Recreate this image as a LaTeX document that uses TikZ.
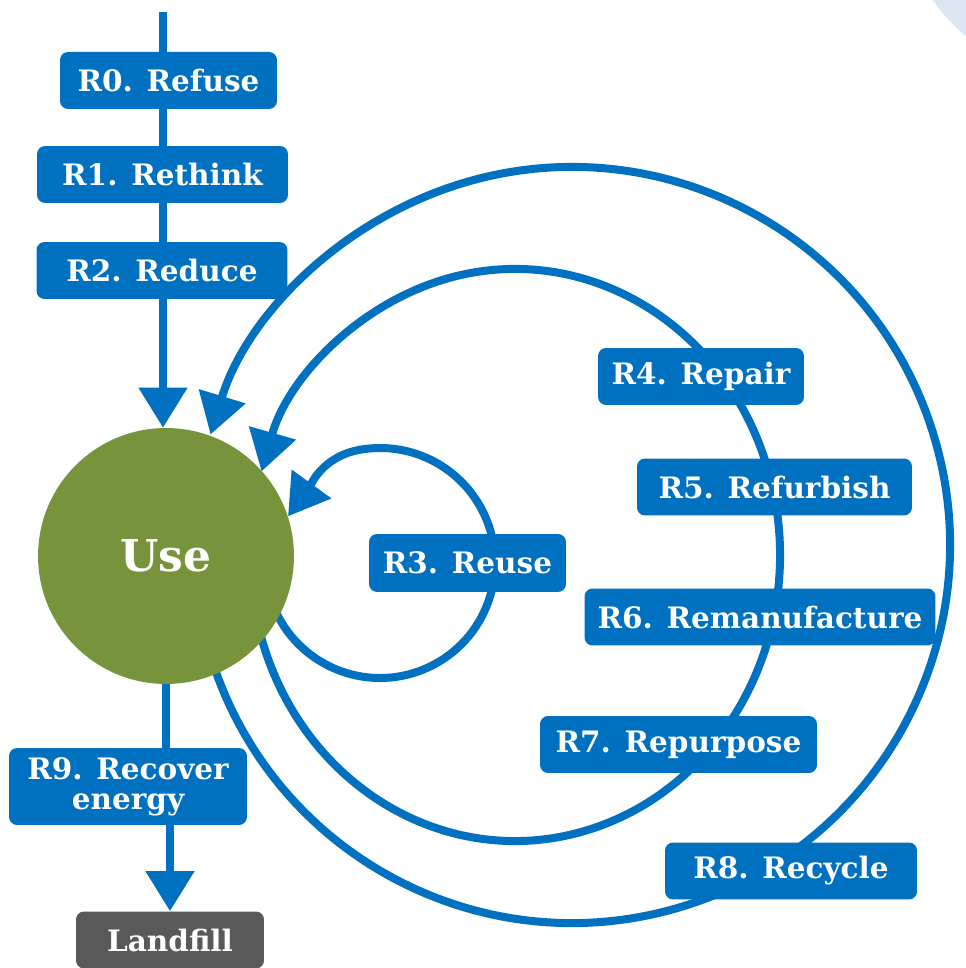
\documentclass[tikz,border=0pt]{standalone}
\usepackage{fontspec}
\setmainfont{DejaVu Serif}
\usetikzlibrary{shapes.geometric, arrows.meta, backgrounds}

\definecolor{rblue}{HTML}{0070C0}
\definecolor{usegreen}{HTML}{77933C}
\definecolor{fillgrey}{HTML}{595959}
\definecolor{paleblue}{HTML}{DCE6F2}

\tikzstyle{rbox} = [rectangle, rounded corners=0.16cm, minimum height=1.14cm, inner sep=0pt, text centered, fill=rblue, text=white, font=\fontsize{16.8}{19}\selectfont\bfseries]
\tikzstyle{endbox} = [rbox, fill=fillgrey]
\tikzstyle{usecircle} = [circle, minimum size=5.12cm, inner sep=0pt, fill=usegreen, text=white, font=\fontsize{25}{30}\selectfont\bfseries]
\tikzstyle{flow} = [rblue, line width=0.16cm]
\tikzstyle{arrow} = [flow, -{Triangle[width=0.94cm, length=0.8cm]}]

\begin{document}
\begin{tikzpicture}[x=0.02cm, y=0.02cm]
\useasboundingbox (0,0) rectangle (965,968);

% Centre - the product in use
\node (use) [usecircle] at (166,412) {Use};

% Column 1 - Smarter product use and manufacture
\coordinate (top) at (163,956);
\node (refuse) [rbox, minimum width=4.34cm] at (168.5,887.5) {R0. Refuse};
\node (rethink) [rbox, minimum width=5.02cm] at (162.5,793.5) {R1. Rethink};
\node (reduce) [rbox, minimum width=5.02cm] at (162,697.5) {R2. Reduce};

% Column 1 - Way out
\node (recover) [rbox, align=center, minimum width=4.76cm, minimum height=1.54cm, font=\fontsize{16.8}{17}\selectfont\bfseries] at (128,181.5) {R9. Recover\\energy};
\node (landfill) [endbox, minimum width=3.76cm] at (170,28) {Landfill};

% Loops - extend lifespan of product and parts
\node (reuse) [rbox, minimum width=3.94cm, minimum height=1.16cm] at (467.5,405) {R3. Reuse};
\node (repair) [rbox, minimum width=4.12cm] at (701,591.5) {R4. Repair};
\node (refurbish) [rbox, minimum width=5.5cm] at (774.5,481) {R5. Refurbish};
\node (remanufacture) [rbox, minimum width=7.02cm] at (760,351) {R6. Remanufacture};
\node (repurpose) [rbox, minimum width=5.54cm] at (678.5,223.5) {R7. Repurpose};
\node (recycle) [rbox, minimum width=5.04cm] at (791,97) {R8. Recycle};

% Loop centres
\coordinate (loopS) at (380,405);
\coordinate (ringM) at (515,413);
\coordinate (ringO) at (572,423);

\begin{scope}[on background layer]
\fill[paleblue] (1100,1088) circle (206);

% Column 1 - Arrows
\draw [arrow] (top) -- (top |- use.north);
\draw [flow] (use.south) -- (use.south |- recover.north);
\draw [arrow] (recover.south -| landfill.north) -- (landfill.north);

% Loops - Arrows
\draw [arrow] (loopS) ++(205:115) arc[start angle=205, end angle=460, radius=115] to[out=190, in=54] (use.18);
\draw [arrow] (ringM) ++(196:265 and 286) arc[start angle=196, end angle=523, x radius=265, y radius=286];
\draw [arrow] (ringO) ++(198:378) arc[start angle=198, end angle=523, radius=378];
\end{scope}

\end{tikzpicture}
\end{document}
